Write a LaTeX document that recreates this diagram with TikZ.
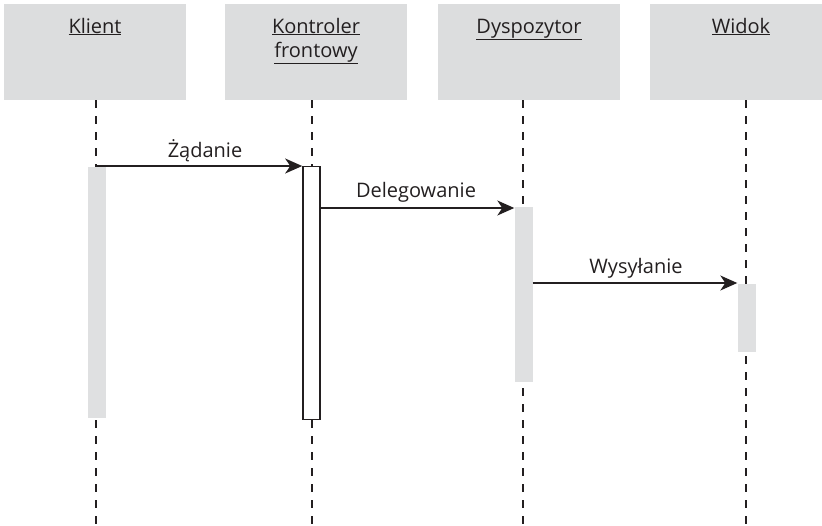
\documentclass[tikz,border=0pt]{standalone}
\usepackage{fontspec}
\setmainfont{Open Sans}
\usetikzlibrary{arrows.meta}
\definecolor{headgray}{HTML}{DCDDDE}
\definecolor{bargray}{HTML}{DFE0E1}
\definecolor{ink}{HTML}{231F20}
\begin{document}
\begin{tikzpicture}[x=1pt,y=-1pt,
  headbox/.style={fill=headgray, draw=none, minimum width=182pt, minimum height=96pt, inner sep=0pt, anchor=north west},
  headtext/.style={font=\fontsize{20pt}{24pt}\selectfont, text=ink, align=center, anchor=base, inner sep=0pt},
  lifeline/.style={draw=ink, line width=1.5pt, dash pattern=on 8pt off 8pt},
  graybar/.style={fill=bargray, draw=none, minimum width=18pt, inner sep=0pt, anchor=north},
  whitebar/.style={fill=white, draw=ink, line width=1.6pt, minimum width=17pt, inner sep=0pt, anchor=north},
  msg/.style={draw=ink, line width=1.6pt, -{Stealth[length=17pt,width=15pt,inset=5pt]}},
  msgtext/.style={font=\fontsize{20pt}{24pt}\selectfont, text=ink, anchor=base, inner sep=0pt}]
\useasboundingbox (0,0) rectangle (822,525);
\begin{scope}
\clip (0,0) rectangle (822,525);
% header boxes
\node[headbox] (hK) at (4,4) {};
\node[headbox] (hF) at (225,4) {};
\node[headbox] (hD) at (438,4) {};
\node[headbox] (hW) at (650,4) {};
\end{scope}
% header texts
\node[headtext] (tK) at (95,33) {\underline{Klient}};
\node[headtext] (tF1) at (316,33) {\underline{Kontroler}};
\node[headtext] (tF2) at (316,57) {\underline{frontowy}};
\node[headtext] (tD) at (529,33) {\underline{Dyspozytor}};
\node[headtext] (tW) at (741,33) {\underline{Widok}};
% lifelines
\coordinate (lK0) at (96,100); \coordinate (lK1) at (96,525);
\coordinate (lF0) at (312,100); \coordinate (lF1) at (312,525);
\coordinate (lD0) at (523,100); \coordinate (lD1) at (523,525);
\coordinate (lW0) at (746,100); \coordinate (lW1) at (746,525);
\draw[lifeline] (lK0) -- (lK1);
\draw[lifeline] (lF0) -- (lF1);
\draw[lifeline] (lD0) -- (lD1);
\draw[lifeline] (lW0) -- (lW1);
% activation bars
\node[graybar, minimum height=251pt] (aK) at (97,167) {};
\node[whitebar, minimum height=253pt] (aF) at (311.5,165.75) {};
\node[graybar, minimum height=175pt] (aD) at (523.5,207) {};
\node[graybar, minimum height=68pt] (aW) at (746.5,284) {};
% messages
\coordinate (sK) at (96,166);
\draw[msg] (sK) -- (aF.west |- sK);
\node[msgtext] (m1) at (205,157) {Żądanie};
\coordinate (sF) at (320,208);
\draw[msg] (aF.east |- sF) -- (aD.west |- sF);
\node[msgtext] (m2) at (416,197) {Delegowanie};
\coordinate (sD) at (533,283);
\draw[msg] (aD.east |- sD) -- (aW.west |- sD);
\node[msgtext] (m3) at (636,273) {Wysyłanie};
\end{tikzpicture}
\end{document}
